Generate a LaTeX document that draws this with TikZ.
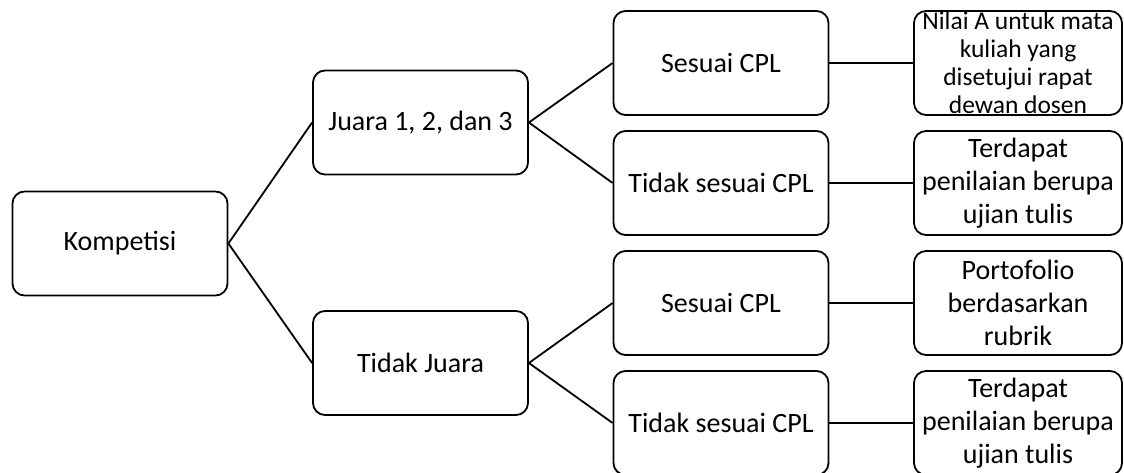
\documentclass[tikz,border=0pt]{standalone}
\usepackage{fontspec}
\setmainfont{Carlito}
\usetikzlibrary{positioning}

\tikzset{
    box/.style={draw, line width=1.8pt, rounded corners=12pt, inner sep=0pt,
        minimum width=215pt, minimum height=104pt, align=center,
        font=\fontsize{28}{33}\selectfont},
    outbox/.style={box, minimum width=208pt},
}

\begin{document}
\begin{tikzpicture}[x=1pt, y=-1pt, line width=1.8pt]

    \useasboundingbox (0, 0) rectangle (1124, 473);
    \clip (0, 0) rectangle (1124, 473);

    \node[box] (komp) at (120, 243.5) {Kompetisi};
    \node[box] (juara) at (420.5, 122.5) {Juara 1, 2, dan 3};
    \node[box] (tjuara) at (420.5, 363) {Tidak Juara};

    \node[box] (s1) at (721, 63) {Sesuai CPL};
    \node[box] (t1) at (721, 183) {Tidak sesuai CPL};
    \node[box] (s2) at (721, 303) {Sesuai CPL};
    \node[box] (t2) at (721, 423) {Tidak sesuai CPL};

    \node[outbox, font=\fontsize{25.5}{28}\selectfont] (r1) at (1018, 63)
        {Nilai A untuk mata\\kuliah yang\\disetujui rapat\\dewan dosen};
    \node[outbox] (r2) at (1018, 183) {Terdapat\\penilaian berupa\\ujian tulis};
    \node[outbox] (r3) at (1018, 303) {Portofolio\\berdasarkan\\rubrik};
    \node[outbox] (r4) at (1018, 423) {Terdapat\\penilaian berupa\\ujian tulis};

    \path
        (komp.east) edge (juara.west)
        (komp.east) edge (tjuara.west)
        (juara.east) edge (s1.west)
        (juara.east) edge (t1.west)
        (tjuara.east) edge (s2.west)
        (tjuara.east) edge (t2.west)
        (s1) edge (r1)
        (t1) edge (r2)
        (s2) edge (r3)
        (t2) edge (r4);
\end{tikzpicture}
\end{document}
